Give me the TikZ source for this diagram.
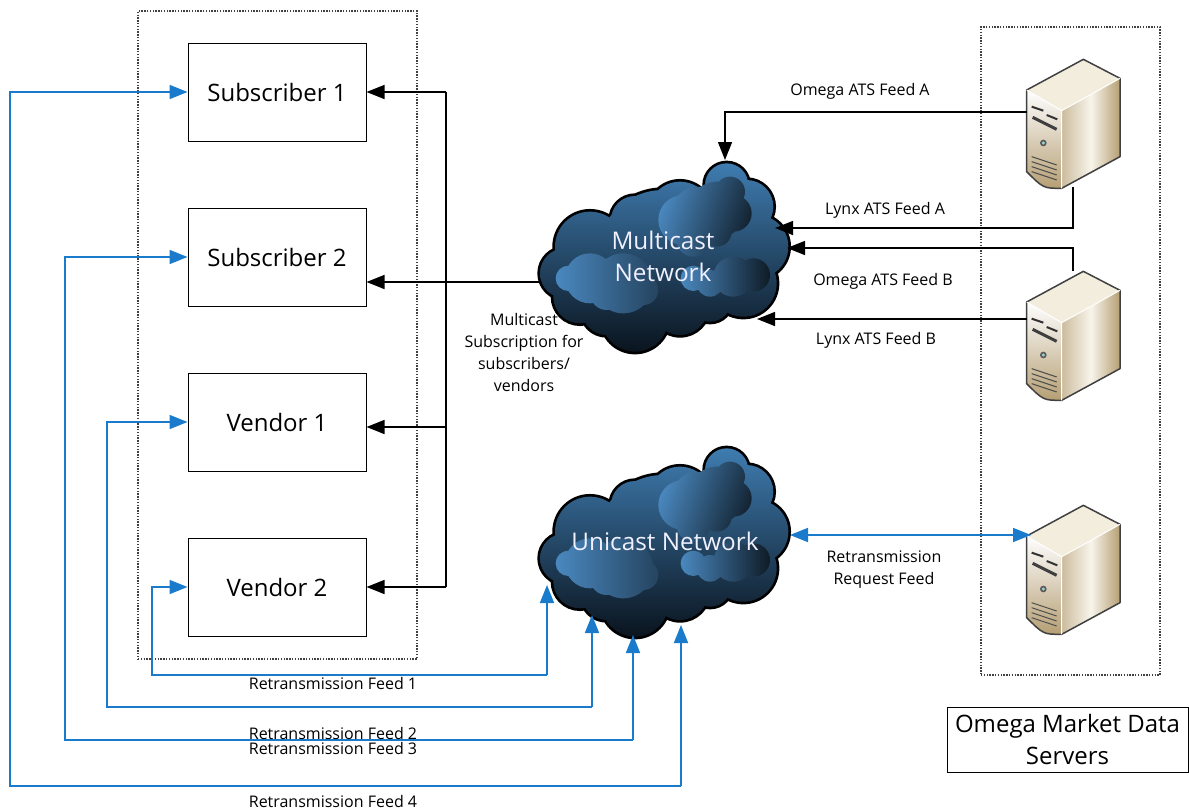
\documentclass[tikz,border=0pt]{standalone}
\usepackage{fontspec}
\setmainfont{Open Sans}
\usetikzlibrary{arrows.meta}
\definecolor{feedblue}{HTML}{1A7ACB}
\definecolor{lobelight}{HTML}{4A88BF}
\definecolor{cloudmid}{HTML}{2C5C86}
\definecolor{cloudtop}{HTML}{3F7CB0}
\definecolor{cloudlow}{HTML}{0A141E}
\definecolor{tanface}{HTML}{B59F74}
\definecolor{creamface}{HTML}{F3EDDD}
\newcommand{\cloudoutline}{(105,370) circle [radius=75] (180,290) circle [radius=105]
  (315,210) circle [radius=72] (450,190) circle [radius=95] (590,105) circle [radius=65]
  (650,170) circle [radius=80] (680,290) circle [radius=95] (640,400) circle [radius=100]
  (540,450) circle [radius=65] (450,470) circle [radius=85] (315,505) circle [radius=100]
  (230,480) circle [radius=75] (150,440) circle [radius=80] (400,320) circle [radius=200]
  (250,380) circle [radius=120]}
\tikzset{cloudpic/.pic = {
  \begin{scope}[scale=1/3]
    \draw[black, line width=5.4pt] \cloudoutline;
    \shade[top color=cloudtop, middle color=cloudmid, bottom color=cloudlow] \cloudoutline;
    \shade[left color=lobelight, right color=lobelight!25!black, shading angle=70]
      (460,210) circle [radius=75] (500,180) circle [radius=70] (560,180) circle [radius=85]
      (600,125) circle [radius=45] (610,190) circle [radius=55] (560,245) circle [radius=45]
      (490,270) circle [radius=50];
    \shade[left color=lobelight, right color=lobelight!50!black]
      (115,385) circle [radius=38] (180,385) circle [radius=75] (280,400) circle [radius=90]
      (340,420) circle [radius=45] (230,430) circle [radius=50];
    \shade[left color=lobelight, right color=lobelight!20!black]
      (490,385) circle [radius=38] (540,400) circle [radius=40] (610,380) circle [radius=60]
      (670,375) circle [radius=50];
  \end{scope}}}
\tikzset{serverpic/.pic = {
  \begin{scope}[scale=1/3]
    \shade[left color=tanface!70!white, right color=tanface, middle color=creamface!60!white] (245,212) -- (420,115) -- (420,350) -- (245,445) -- cycle;
    \shade[top color=white, bottom color=tanface] (140,150) -- (245,212) -- (245,445) .. controls (190,445) .. (140,395) -- cycle;
    \fill[creamface] (140,150) -- (310,58) -- (420,115) -- (245,212) -- cycle;
    \draw[line width=1.5pt, black!75, line join=round] (140,150) -- (310,58) -- (420,115) -- (420,350) -- (245,445) .. controls (190,445) .. (140,395) -- cycle;
    \draw[white, line width=1pt] (140,150) -- (245,212) -- (420,115) (245,212) -- (245,445);
    \draw[line width=2pt, black!80] (155,200) -- (190,212) (200,225) -- (232,238);
    \draw[line width=3pt, black!75] (158,232) -- (230,268);
    \fill[black!65] (190,309) circle [radius=10];
    \fill[teal!40] (190,309) circle [radius=5];
    \foreach \vy in {350,365,380,395} {\draw[line width=1pt, black!70] (155,\vy) -- (230,\vy+25);}
  \end{scope}}}
\tikzset{boxnode/.style = {draw, line width=1pt, minimum width=178, minimum height=98, inner sep=0, font=\fontsize{24}{28}\selectfont}}
\tikzset{dotbox/.style = {draw=black!75, line width=1.1pt, dash pattern=on 1.4pt off 1.4pt}}
\tikzset{netname/.style = {text=blue!6, align=center, font=\fontsize{24.3}{32}\selectfont}}
\tikzset{feedlabel/.style = {align=center, inner sep=0, font=\fontsize{16}{22}\selectfont}}
\tikzset{blackline/.style = {line width=1.5pt, -{Triangle[length=18, width=14]}}}
\tikzset{blueline/.style = {feedblue, line width=1.7pt, -{Triangle[length=18, width=14]}}}
\begin{document}
\begin{tikzpicture}[x=1pt, y=-1pt]
  \useasboundingbox (0, 0) rectangle (1189, 811);
  \node[dotbox, minimum width=279, minimum height=648] (subsframe) at (277.5, 335) {};
  \node[dotbox, minimum width=179, minimum height=648] (serverframe) at (1070.5, 351) {};

  \node[boxnode] (sub1) at (277, 92) {Subscriber 1};
  \node[boxnode] (sub2) at (277, 257) {Subscriber 2};
  \node[boxnode] (vendor1) at (277, 422) {Vendor 1};
  \node[boxnode] (vendor2) at (277, 587) {Vendor 2};

  \pic at (530, 150) {cloudpic};
  \pic at (530, 435) {cloudpic};
  \node[netname] (multicast) at (663, 256) {Multicast\\Network};
  \node[netname] (unicast) at (665, 541) {Unicast Network};

  \pic at (980, 40) {serverpic};
  \pic at (980, 252) {serverpic};
  \pic at (980, 486) {serverpic};

  \node[draw, line width=1pt, minimum width=241, minimum height=65, align=center, inner sep=0, font=\fontsize{24}{32}\selectfont] (legend) at (1067.5, 739.5) {Omega Market Data\\Servers};

  \coordinate (feedAtop) at (1027, 112);
  \coordinate (feedAin) at (725, 160);
  \coordinate (lynxAtop) at (1073, 187);
  \coordinate (lynxAin) at (775, 228);
  \coordinate (omegaBtop) at (1073, 271);
  \coordinate (omegaBin) at (787, 248);
  \coordinate (lynxBtop) at (1027, 319);
  \coordinate (lynxBin) at (757, 319);
  \coordinate (uniright) at (790, 535);
  \coordinate (srvthree) at (1031, 535);
  \coordinate (trunktop) at (446, 92);
  \coordinate (trunkbot) at (446, 587);
  \coordinate (trunkmid) at (446, 427);
  \coordinate (multileft) at (541, 282);

  \draw[blackline] (feedAtop) -| (feedAin);
  \draw[blackline] (lynxAtop) |- (lynxAin);
  \draw[blackline] (omegaBtop) |- (omegaBin);
  \draw[blackline] (lynxBtop) -- (lynxBin);
  \draw[blackline] (multileft) -- (multileft -| sub2.east);
  \draw[line width=1.5pt] (trunktop) -- (trunkbot);
  \draw[blackline] (trunktop) -- (sub1.east);
  \draw[blackline] (trunkmid) -- (trunkmid -| vendor1.east);
  \draw[blackline] (trunkbot) -- (vendor2.east);

  \draw[blueline, {Triangle[length=18, width=14]}-{Triangle[length=18, width=14]}] (uniright) -- (srvthree);

  \coordinate (uni1) at (547, 585);
  \coordinate (uni2) at (592, 615);
  \coordinate (uni3) at (633, 635);
  \coordinate (uni4) at (681, 625);
  \draw[blueline] (uni1 |- 0, 675) -- (uni1);
  \draw[blueline] (uni2 |- 0, 707) -- (uni2);
  \draw[blueline] (uni3 |- 0, 740) -- (uni3);
  \draw[blueline] (uni4 |- 0, 786) -- (uni4);
  \draw[blueline] (uni1 |- 0, 675) -- (152, 675) |- (vendor2.west);
  \draw[blueline] (uni2 |- 0, 707) -- (107, 707) |- (vendor1.west);
  \draw[blueline] (uni3 |- 0, 740) -- (65, 740) |- (sub2.west);
  \draw[blueline] (uni4 |- 0, 786) -- (10, 786) |- (sub1.west);

  \node[feedlabel] (lblomegaA) at (860, 91) {Omega ATS Feed A};
  \node[feedlabel] (lbllynxA) at (885, 210) {Lynx ATS Feed A};
  \node[feedlabel] (lblomegaB) at (883, 281) {Omega ATS Feed B};
  \node[feedlabel] (lbllynxB) at (876, 340) {Lynx ATS Feed B};
  \node[feedlabel] (lblrequest) at (884, 570) {Retransmission\\Request Feed};
  \node[feedlabel] (lblsubscr) at (524, 352) {Multicast\\Subscription for\\subscribers/\\vendors};
  \node[feedlabel] (lblretr1) at (333, 683) {Retransmission Feed 1};
  \node[feedlabel] (lblretr2) at (333, 733) {Retransmission Feed 2};
  \node[feedlabel] (lblretr3) at (333, 748) {Retransmission Feed 3};
  \node[feedlabel] (lblretr4) at (333, 801) {Retransmission Feed 4};
\end{tikzpicture}
\end{document}
